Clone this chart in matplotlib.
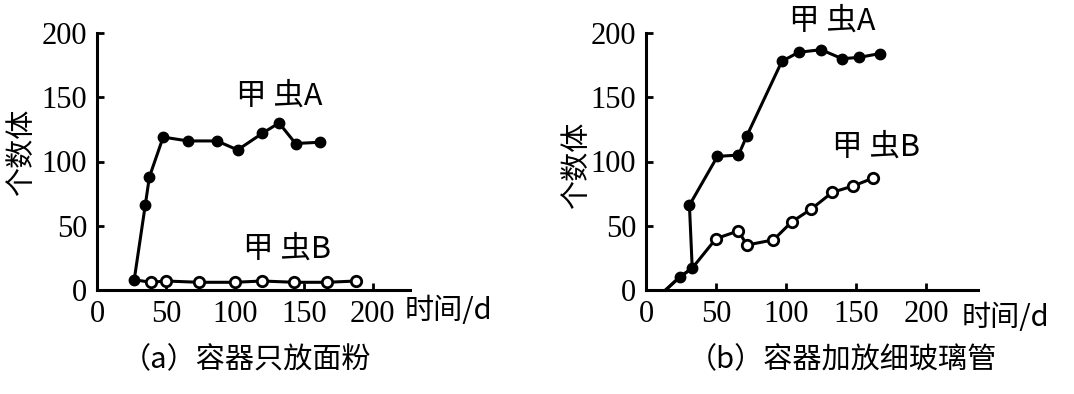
import matplotlib
matplotlib.use("Agg")
import matplotlib.pyplot as plt

# (a) flour only
a_days_A = [27, 35, 38, 48, 66, 87, 102, 120, 132, 144, 162]
a_count_A = [8, 66, 88, 119, 116, 116, 109, 122, 130, 114, 115]
a_days_B = [27, 39, 50, 74, 100, 120, 143, 167, 188]
a_count_B = [8, 6, 7, 6, 6, 7, 6, 6, 7]

# (b) flour + glass tubes
b_days_A = [14, 24, 33, 31, 51, 66, 72, 97, 109, 125, 140, 152, 167]
b_count_A = [0, 10, 17, 66, 104, 105, 120, 178, 185, 187, 180, 181, 184]
b_days_B = [14, 24, 33, 50, 66, 72, 91, 104, 118, 133, 148, 162]
b_count_B = [0, 10, 17, 40, 46, 35, 39, 53, 63, 76, 81, 87]

ticks_x = [0, 50, 100, 150, 200]
ticks_y = [0, 50, 100, 150, 200]

CJK = ['Noto Sans CJK SC', 'DejaVu Sans']
plt.rcParams['font.family'] = ['Liberation Serif', 'DejaVu Serif']

fig = plt.figure(figsize=(10.74, 3.94), dpi=100)


def panel(rect, xmax, dA, cA, dB, cB, mark_a, mark_b, posA, posB, xlab_pos, ylab_pos, caption, cap_pos):
    ax = fig.add_axes(rect)
    ax.plot(dB, cB, color='black', lw=2.2, clip_on=False, zorder=2)
    ax.plot([dB[i] for i in mark_b], [cB[i] for i in mark_b], 'o', ms=7.5,
            mfc='white', mec='black', mew=2, clip_on=False, zorder=3)
    ax.plot(dA, cA, color='black', lw=2.2, clip_on=False, zorder=2)
    ax.plot([dA[i] for i in mark_a], [cA[i] for i in mark_a], 'o', ms=7.5,
            color='black', clip_on=False, zorder=4)
    ax.set_xlim(0, xmax)
    ax.set_ylim(0, 200)
    ax.set_xticks(ticks_x)
    ax.set_yticks(ticks_y)
    ax.tick_params(direction='in', length=5, width=2, labelsize=22, pad=7)
    for s in ['top', 'right']:
        ax.spines[s].set_visible(False)
    for s in ['left', 'bottom']:
        ax.spines[s].set_linewidth(2.2)
    ax.text(*posA, '甲 虫A', family=CJK, fontsize=22, ha='center', va='center')
    ax.text(*posB, '甲 虫B', family=CJK, fontsize=22, ha='center', va='center')
    fig.text(*xlab_pos, '时间/d', family=CJK, fontsize=21, ha='left', va='center')
    fig.text(*ylab_pos, '个数体', family=CJK, fontsize=21, rotation=90, ha='center', va='center')
    fig.text(*cap_pos, caption, family=CJK, fontsize=21, ha='center', va='center')
    return ax


panel([97 / 1074, 1 - 290 / 394, 313 / 1074, 257 / 394], 227,
      a_days_A, a_count_A, a_days_B, a_count_B,
      list(range(len(a_days_A))), list(range(1, len(a_days_B))),
      (132, 151), (138, 32), (405 / 1074, 1 - 311 / 394), (22 / 1074, 1 - 152 / 394),
      '（a）容器只放面粉', (247 / 1074, 1 - 360 / 394))

panel([646 / 1074, 1 - 290 / 394, 332 / 1074, 257 / 394], 237,
      b_days_A, b_count_A, b_days_B, b_count_B,
      list(range(1, len(b_days_A))), list(range(3, len(b_days_B))),
      (133, 209), (164, 111), (962 / 1074, 1 - 318 / 394), (577 / 1074, 1 - 165 / 394),
      '（b）容器加放细玻璃管', (842 / 1074, 1 - 360 / 394))

fig.savefig('out.png', dpi=100)
